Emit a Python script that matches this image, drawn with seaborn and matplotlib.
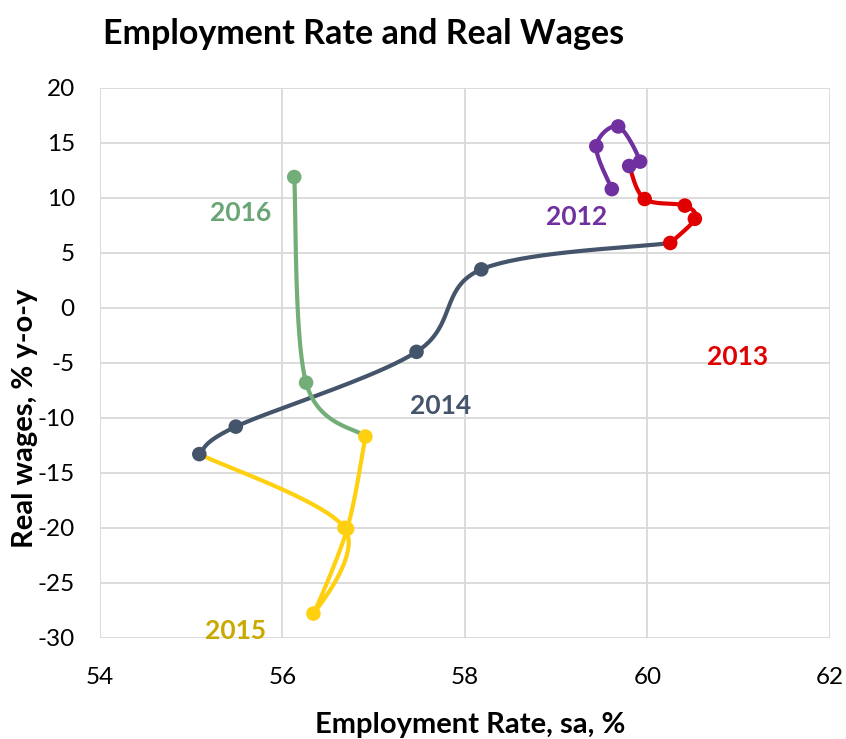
import numpy as np
import pandas as pd
import matplotlib
matplotlib.use("Agg")
import matplotlib.pyplot as plt
import seaborn as sns

# Employment rate (x, %) and real wage growth (y, % y-o-y) by year
emp_2012 = [59.61, 59.44, 59.68, 59.92, 59.80]
wage_2012 = [10.8, 14.7, 16.5, 13.3, 12.9]
emp_2013 = [59.97, 60.41, 60.52, 60.25]
wage_2013 = [9.9, 9.3, 8.1, 5.9]
emp_2014 = [58.18, 57.47, 55.49, 55.09]
wage_2014 = [3.5, -4.0, -10.8, -13.3]
emp_2015 = [56.68, 56.34, 56.71, 56.91]
wage_2015 = [-20.0, -27.8, -20.1, -11.7]
emp_2016 = [56.26, 56.13]
wage_2016 = [-6.8, 11.9]

years = ["2012", "2013", "2014", "2015", "2016"]
emp = [emp_2012, emp_2013, emp_2014, emp_2015, emp_2016]
wage = [wage_2012, wage_2013, wage_2014, wage_2015, wage_2016]

colors = {"2012": "#7030A0", "2013": "#E00000", "2014": "#44546A",
          "2015": "#FFD010", "2016": "#73AE78"}
label_colors = {"2012": "#7030A0", "2013": "#E00000", "2014": "#44546A",
                "2015": "#C9A800", "2016": "#6AA576"}
label_pos = {"2012": (59.22, 8.3), "2013": (60.99, -4.5), "2014": (57.73, -8.9),
             "2015": (55.49, -29.4), "2016": (55.545, 8.6)}

sns.set_theme(style="white")
plt.rcParams["font.family"] = ["Lato", "DejaVu Sans"]
plt.rcParams["axes.unicode_minus"] = False
plt.rcParams["text.color"] = "black"


def smooth_path(xs, ys, n=40):
    """Bezier smoothing through the points (spreadsheet-style smoothed line)."""
    p = np.column_stack([xs, ys]).astype(float)
    if len(p) < 3:
        return p[:, 0], p[:, 1]
    ext = np.vstack([p[0], p, p[-1]])
    out = []
    t = np.linspace(0, 1, n)[:, None]
    for i in range(1, len(ext) - 2):
        p0, p1, p2, p3 = ext[i - 1], ext[i], ext[i + 1], ext[i + 2]
        c1 = p1 + (p2 - p0) / 6.0
        c2 = p2 - (p3 - p1) / 6.0
        seg = ((1 - t) ** 3) * p1 + 3 * ((1 - t) ** 2) * t * c1 + 3 * (1 - t) * t ** 2 * c2 + t ** 3 * p2
        out.append(seg if not out else seg[1:])
    s = np.vstack(out)
    return s[:, 0], s[:, 1]


fig, ax = plt.subplots(figsize=(8.46, 7.39), dpi=100)
fig.subplots_adjust(left=0.118, right=0.981, top=0.881, bottom=0.137)

# each year's line starts from the previous year's last observation
prev = None
for yr, xs, ys in zip(years, emp, wage):
    px, py = list(xs), list(ys)
    if prev is not None:
        px = [prev[0]] + px
        py = [prev[1]] + py
    sx, sy = smooth_path(px, py)
    path = pd.DataFrame({"x": sx, "y": sy})
    sns.lineplot(data=path, x="x", y="y", sort=False, estimator=None, ax=ax,
                 color=colors[yr], linewidth=3.0, zorder=3)
    prev = (xs[-1], ys[-1])

for yr, xs, ys in zip(years, emp, wage):
    pts = pd.DataFrame({"x": xs, "y": ys})
    sns.scatterplot(data=pts, x="x", y="y", ax=ax, color=colors[yr], s=110,
                    edgecolor="none", zorder=4)
    lx, ly = label_pos[yr]
    ax.text(lx, ly, yr, color=label_colors[yr], fontsize=19, fontweight="bold",
            ha="center", va="center", zorder=5)

ax.set_xlim(54, 62)
ax.set_ylim(-30, 20)
ax.set_xticks(np.arange(54, 63, 2))
ax.set_yticks(np.arange(-30, 21, 5))
ax.grid(True, color="#D9D9D9", linewidth=1.3)
for s in ax.spines.values():
    s.set_visible(False)
ax.tick_params(axis="both", labelsize=17.5, length=0, colors="black")
ax.tick_params(axis="x", pad=21)
ax.tick_params(axis="y", pad=18)

ax.set_xlabel("Employment Rate, sa, %", fontsize=21, fontweight="bold", color="black")
ax.xaxis.label.set_va("baseline")
ax.xaxis.set_label_coords(0.507, -0.1727)
ax.set_ylabel("Real wages, % y-o-y", fontsize=21, fontweight="bold", color="black")
ax.yaxis.label.set_va("center")
ax.yaxis.set_label_coords(-0.103, 0.40)
fig.text(0.1217, 0.9405, "Employment Rate and Real Wages", fontsize=24.5,
         fontweight="bold", ha="left", va="baseline", color="black")

fig.savefig("out.png", dpi=100)
